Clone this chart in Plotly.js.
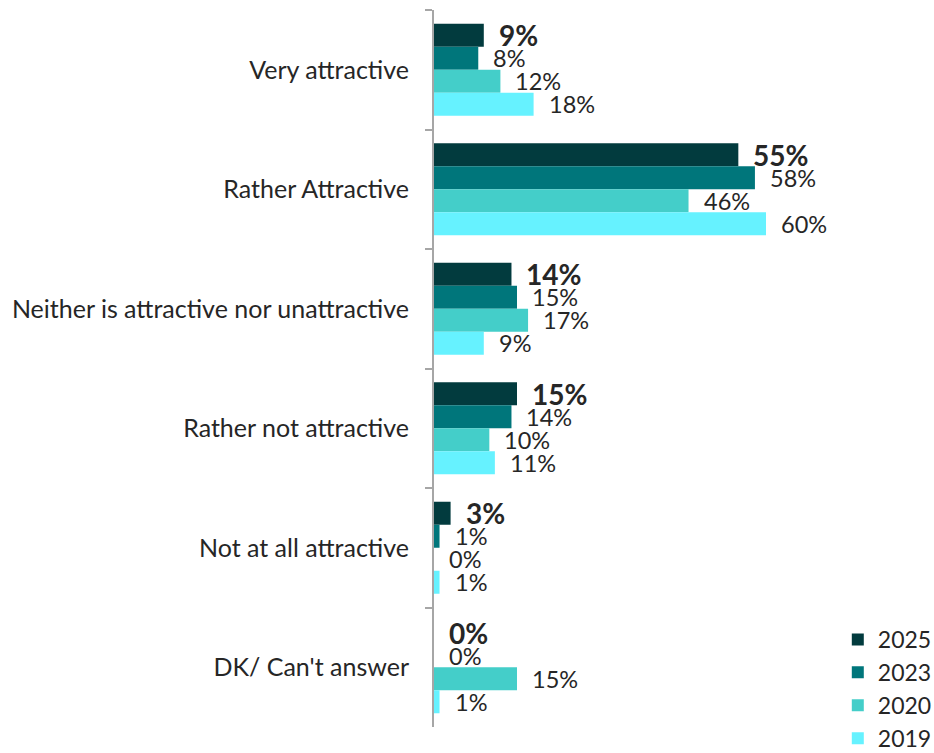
<!DOCTYPE html>
<html>
<head>
<meta charset="utf-8">
<script src="https://cdn.plot.ly/plotly-3.0.1.min.js"></script>
<style>
html,body{margin:0;padding:0;background:#fff;}
#chart{width:934px;height:753px;}
</style>
</head>
<body>
<div id="chart"></div>
<script>
const categories = ["Very attractive", "Rather Attractive", "Neither is attractive nor unattractive", "Rather not attractive", "Not at all attractive", "DK/ Can't answer"];
const seriesNames = ["2025", "2023", "2020", "2019"];
const v2025 = [9, 55, 14, 15, 3, 0];
const v2023 = [8, 58, 15, 14, 1, 0];
const v2020 = [12, 46, 17, 10, 0, 15];
const v2019 = [18, 60, 9, 11, 1, 1];

const seriesValues = [v2025, v2023, v2020, v2019];
const colors = ["#023B3E", "#00767B", "#44CEC9", "#66F2FF"];
const FONT = "Lato, 'Open Sans', sans-serif";
const TEXT = "#262626";
const bargap = 0.23;

const traces = seriesValues.map((vals, i) => ({
  type: "bar",
  orientation: "h",
  name: seriesNames[i],
  legendgroup: seriesNames[i],
  x: vals,
  y: categories,
  marker: {color: colors[i]},
  hoverinfo: "x+name"
}));

const slot = (1 - bargap) / seriesValues.length;
const annotations = [];
seriesValues.forEach((vals, i) => {
  vals.forEach((v, j) => {
    annotations.push({
      xref: "x", yref: "y",
      x: v, y: j + (i - (seriesValues.length - 1) / 2) * slot,
      text: i === 0 ? "<b>" + v + "%</b>" : v + "%",
      showarrow: false,
      xanchor: "left", yanchor: "middle",
      xshift: 13,
      font: {family: FONT, size: i === 0 ? 28 : 23.5, color: TEXT}
    });
  });
});

const layout = {
  width: 934, height: 753,
  margin: {l: 434, r: 2, t: 10, b: 26, autoexpand: false},
  paper_bgcolor: "#fff", plot_bgcolor: "#fff",
  barmode: "group", bargap: bargap, bargroupgap: 0,
  font: {family: FONT, color: TEXT, size: 24},
  xaxis: {range: [0, 90], visible: false, fixedrange: true, automargin: false},
  yaxis: {
    autorange: "reversed", automargin: false,
    showline: true, linecolor: "#A6A6A6", linewidth: 2,
    ticks: "outside", tickson: "boundaries", ticklen: 7, tickcolor: "#A6A6A6", tickwidth: 2,
    ticklabelstandoff: 18,
    tickfont: {family: FONT, size: 25, color: TEXT},
    showgrid: false, zeroline: false
  },
  showlegend: true,
  legend: {
    xref: "container", yref: "paper",
    x: 0.897, y: -0.046, xanchor: "left", yanchor: "bottom",
    traceorder: "normal", tracegroupgap: 13,
    font: {family: FONT, size: 23, color: TEXT},
    bgcolor: "rgba(0,0,0,0)"
  },
  annotations: annotations
};

Plotly.newPlot("chart", traces, layout, {displayModeBar: false});
</script>
</body>
</html>
